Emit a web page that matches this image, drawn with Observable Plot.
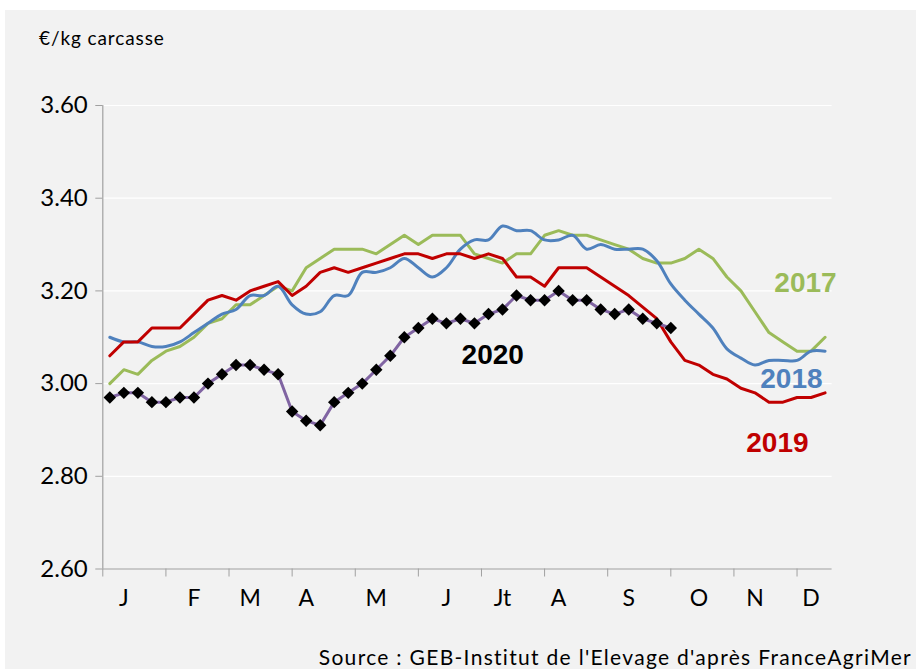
<!DOCTYPE html>
<html>
<head>
<meta charset="utf-8">
<script src="https://cdn.jsdelivr.net/npm/d3@7"></script>
<script src="https://cdn.jsdelivr.net/npm/@observablehq/plot@0.6"></script>
<style>
html, body { margin: 0; padding: 0; background: #ffffff; }
#frame { position: absolute; left: 5px; top: 10px; width: 911px; height: 659px; background: #f2f2f2; overflow: hidden; font-family: Lato, "Open Sans", sans-serif; color: #000; }
#unit { position: absolute; left: 34px; top: 17px; font-size: 19px; letter-spacing: 0.9px; line-height: 22px; white-space: nowrap; }
#chart { position: absolute; left: 0; top: 50px; }
#source { position: absolute; right: 4px; top: 636px; font-size: 21px; letter-spacing: 1.3px; line-height: 21px; white-space: nowrap; }
</style>
</head>
<body>
<div id="frame">
  <div id="unit">€/kg carcasse</div>
  <div id="chart"></div>
  <div id="source">Source : GEB-Institut de l'Elevage d'après FranceAgriMer</div>
</div>
<script>
// ---- Data (weekly prices, €/kg carcasse) ----
const y2017 = [3.00,3.03,3.02,3.05,3.07,3.08,3.10,3.13,3.14,3.17,
               3.17,3.19,3.21,3.20,3.25,3.27,3.29,3.29,3.29,3.28,
               3.30,3.32,3.30,3.32,3.32,3.32,3.28,3.27,3.26,3.28,
               3.28,3.32,3.33,3.32,3.32,3.31,3.30,3.29,3.27,3.26,
               3.26,3.27,3.29,3.27,3.23,3.20,3.155,3.11,3.09,3.07,3.07,3.10];
const y2018 = [3.10,3.09,3.09,3.08,3.08,3.09,3.11,3.13,3.15,3.16,
               3.19,3.19,3.21,3.17,3.15,3.155,3.19,3.19,3.24,3.24,
               3.25,3.27,3.25,3.23,3.25,3.29,3.31,3.31,3.34,3.33,
               3.33,3.31,3.31,3.32,3.29,3.30,3.29,3.29,3.29,3.265,
               3.215,3.18,3.15,3.12,3.075,3.055,3.04,3.05,3.05,3.05,3.07,3.07];
const y2019 = [3.06,3.09,3.09,3.12,3.12,3.12,3.15,3.18,3.19,3.18,
               3.20,3.21,3.22,3.19,3.21,3.24,3.25,3.24,3.25,3.26,
               3.27,3.28,3.28,3.27,3.28,3.28,3.27,3.28,3.27,3.23,
               3.23,3.21,3.25,3.25,3.25,3.23,3.21,3.19,3.165,3.14,
               3.09,3.05,3.04,3.02,3.01,2.99,2.98,2.96,2.96,2.97,2.97,2.98];
const y2020 = [2.97,2.98,2.98,2.96,2.96,2.97,2.97,3.00,3.02,3.04,
               3.04,3.03,3.02,2.94,2.92,2.91,2.96,2.98,3.00,3.03,
               3.06,3.10,3.12,3.14,3.13,3.14,3.13,3.15,3.16,3.19,
               3.18,3.18,3.20,3.18,3.18,3.16,3.15,3.16,3.14,3.13,
               3.12];

const monthLabels = ["J","F","M","A","M","J","Jt","A","S","O","N","D"];
const monthWeeks  = [2, 7, 11, 15, 20, 25, 29, 33, 38, 43, 47, 51];
const tickWeeks   = [0.5, 5, 9.5, 14, 18.5, 23, 27.5, 32, 36.5, 41, 45.5, 50];
const yTicks      = [2.6, 2.8, 3.0, 3.2, 3.4, 3.6];

const seriesLabels = ["2017", "2018", "2019", "2020"];
const seriesColors = ["#9bbb59", "#4f81bd", "#c00000", "#000000"];
const labelWeeks   = [50.6, 49.6, 48.6, 28.3];
const labelValues  = [3.218, 3.009, 2.871, 3.061];

// ---- Build tables ----
const toRows = arr => arr.map((v, i) => ({week: i + 1, value: v}));
const d2017 = toRows(y2017), d2018 = toRows(y2018), d2019 = toRows(y2019), d2020 = toRows(y2020);
const months = monthLabels.map((m, i) => ({label: m, week: monthWeeks[i]}));
const yearLabels = seriesLabels.map((s, i) => ({label: s, week: labelWeeks[i], value: labelValues[i], color: seriesColors[i]}));

const axisGray = "#a0a0a0";

const chart = Plot.plot({
  width: 911,
  height: 560,
  marginLeft: 97.3,
  marginRight: 84.4,
  marginTop: 45,
  marginBottom: 51.5,
  style: {background: "transparent", fontFamily: "Lato, 'Open Sans', sans-serif", overflow: "visible"},
  x: {domain: [0.5, 52.5], axis: null},
  y: {domain: [2.6, 3.6], axis: null},
  color: {type: "identity"},
  marks: [
    Plot.gridY(yTicks.filter(v => v > 2.6), {stroke: "#ffffff", strokeOpacity: 1, strokeWidth: 1.2}),
    Plot.axisY(yTicks, {tickSize: 7, tickPadding: 8, tickFormat: d => d.toFixed(2), fontSize: 24, stroke: axisGray, fill: "#000", label: null}),
    Plot.axisX(tickWeeks, {tickSize: 8, tickFormat: () => "", stroke: axisGray, label: null}),
    Plot.ruleX([0.5], {stroke: axisGray, strokeWidth: 1.2}),
    Plot.ruleY([2.6], {stroke: axisGray, strokeWidth: 1.2}),
    Plot.text(months, {x: "week", text: "label", frameAnchor: "bottom", lineAnchor: "middle", dy: 30, fontSize: 23, fill: "#000"}),
    Plot.line(d2017, {x: "week", y: "value", stroke: "#9bbb59", strokeWidth: 3, strokeLinejoin: "round"}),
    Plot.line(d2018, {x: "week", y: "value", stroke: "#4f81bd", strokeWidth: 3, curve: "catmull-rom", strokeLinejoin: "round"}),
    Plot.line(d2019, {x: "week", y: "value", stroke: "#c00000", strokeWidth: 3, strokeLinejoin: "round"}),
    Plot.line(d2020, {x: "week", y: "value", stroke: "#8064a2", strokeWidth: 3, strokeLinejoin: "round"}),
    Plot.dot(d2020, {x: "week", y: "value", symbol: "diamond2", r: 5.6, fill: "#000", stroke: null}),
    Plot.text(yearLabels, {x: "week", y: "value", text: "label", fill: "color", fontSize: 28, fontWeight: "bold", fontFamily: "'Liberation Sans', Arial, sans-serif", lineAnchor: "middle"})
  ]
});
document.getElementById("chart").appendChild(chart);
</script>
</body>
</html>
